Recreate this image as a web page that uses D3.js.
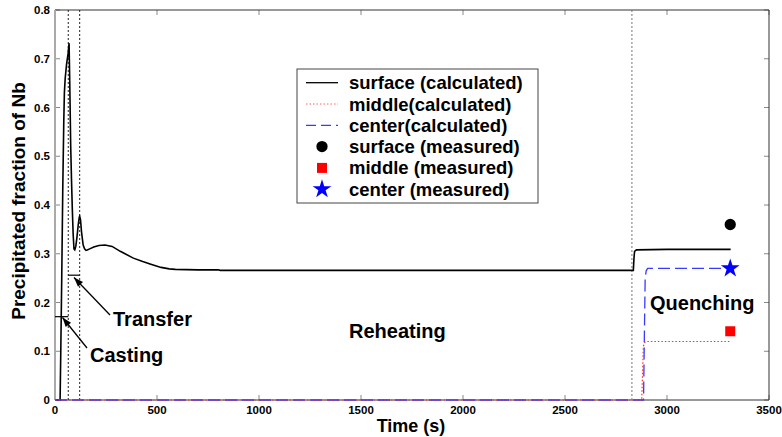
<!DOCTYPE html>
<html>
<head>
<meta charset="utf-8">
<script src="https://cdn.jsdelivr.net/npm/d3@7"></script>
<style>
  body { margin: 0; background: #fff; }
  text { font-family: Arial, "Liberation Sans", sans-serif; }
</style>
</head>
<body>
<div id="chart"></div>
<script>
// surface (calculated)
var surfaceT = [0, 25, 29, 33, 38, 43, 46, 50, 57, 64, 69, 72, 77, 81, 85, 89, 93, 97, 102, 108, 114, 119, 121,
    125, 130, 138, 145, 152, 158, 170, 190, 215, 245, 280, 320, 384, 430, 466, 520, 560, 590, 700, 800, 810,
    1500, 2000, 2500, 2835, 2838, 2841, 2850, 3000, 3312];
var surfaceV = [0, 0, 0.12, 0.25, 0.43, 0.57, 0.63, 0.66, 0.69, 0.71, 0.732, 0.66, 0.52, 0.45, 0.39, 0.34, 0.31, 0.308, 0.315, 0.335, 0.36, 0.375, 0.377,
    0.37, 0.345, 0.318, 0.31, 0.307, 0.3077, 0.31, 0.314, 0.317, 0.318, 0.315, 0.305, 0.291, 0.284, 0.279, 0.272, 0.269, 0.268, 0.267, 0.267, 0.266,
    0.266, 0.266, 0.266, 0.266, 0.29, 0.305, 0.308, 0.309, 0.309];
// middle (calculated)
var middleT = [0, 2876, 2880, 2884, 2892, 2900, 3316];
var middleV = [0, 0, 0.05, 0.11, 0.119, 0.12, 0.12];
// center (calculated)
var centerT = [0, 2885, 2889, 2893, 2898, 2905, 3310];
var centerV = [0, 0, 0.13, 0.25, 0.265, 0.27, 0.27];
// measured values
var measuredNames = ['surface', 'middle', 'center'];
var measuredT = [3310, 3310, 3310];
var measuredV = [0.36, 0.141, 0.27];
// process stages
var stageBounds = [65, 121, 2828];
var castingLevel = 0.171;
var transferLevel = 0.256;
var legendLabels = ['surface (calculated)', 'middle(calculated)', 'center(calculated)',
    'surface (measured)', 'middle (measured)', 'center (measured)'];
var xTicks = [0, 500, 1000, 1500, 2000, 2500, 3000, 3500];
var yTicks = [0, 0.1, 0.2, 0.3, 0.4, 0.5, 0.6, 0.7, 0.8];

var width = 782, height = 437;
var svg = d3.select('#chart').append('svg')
    .attr('width', width).attr('height', height);

var x = d3.scaleLinear().domain([0, 3500]).range([55, 769]);
var y = d3.scaleLinear().domain([0, 0.8]).range([400, 10]);

// ticks (inside, all four sides)
var ticks = svg.append('g').attr('stroke', '#888').attr('stroke-width', 1);
xTicks.forEach(function(t) {
    ticks.append('line').attr('x1', x(t)).attr('x2', x(t)).attr('y1', 400).attr('y2', 395);
    ticks.append('line').attr('x1', x(t)).attr('x2', x(t)).attr('y1', 10).attr('y2', 15);
});
yTicks.forEach(function(v) {
    ticks.append('line').attr('x1', 55).attr('x2', 60).attr('y1', y(v)).attr('y2', y(v));
    ticks.append('line').attr('x1', 769).attr('x2', 764).attr('y1', y(v)).attr('y2', y(v));
});

// frame
svg.append('line').attr('x1', 55).attr('x2', 769).attr('y1', 10).attr('y2', 10).attr('stroke', '#333');
svg.append('line').attr('x1', 769).attr('x2', 769).attr('y1', 10).attr('y2', 400).attr('stroke', '#333');
svg.append('line').attr('x1', 55).attr('x2', 769).attr('y1', 400).attr('y2', 400).attr('stroke', '#333');
svg.append('line').attr('x1', 55).attr('x2', 55).attr('y1', 10).attr('y2', 400)
    .attr('stroke', '#aaa').attr('stroke-width', 2);

// tick labels
svg.append('g').selectAll('text').data(xTicks).enter().append('text')
    .attr('x', function(d) { return x(d); })
    .attr('y', 414)
    .attr('text-anchor', 'middle')
    .attr('font-size', 11.5)
    .attr('font-weight', 'bold')
    .text(function(d) { return d; });
svg.append('g').selectAll('text').data(yTicks).enter().append('text')
    .attr('x', 50)
    .attr('y', function(d) { return y(d) + 4; })
    .attr('text-anchor', 'end')
    .attr('font-size', 11.5)
    .attr('font-weight', 'bold')
    .text(function(d) { return d === 0 ? '0' : d3.format('.1f')(d); });

// axis titles
svg.append('text').attr('x', 411).attr('y', 432).attr('text-anchor', 'middle')
    .attr('font-size', 18).attr('font-weight', 'bold').text('Time (s)');
svg.append('text').attr('transform', 'translate(25,201) rotate(-90)').attr('text-anchor', 'middle')
    .attr('font-size', 19).attr('font-weight', 'bold').text('Precipitated fraction of Nb');

// stage boundaries
svg.append('g').selectAll('line').data(stageBounds).enter().append('line')
    .attr('x1', function(d) { return x(d); })
    .attr('x2', function(d) { return x(d); })
    .attr('y1', 10).attr('y2', 400)
    .attr('stroke', function(d, i) { return i === 2 ? '#777' : '#222'; })
    .attr('stroke-dasharray', '2,2');

svg.append('line').attr('x1', x(0)).attr('x2', x(stageBounds[0]))
    .attr('y1', y(castingLevel)).attr('y2', y(castingLevel)).attr('stroke', '#111').attr('stroke-width', 1.3);
svg.append('line').attr('x1', x(stageBounds[0])).attr('x2', x(stageBounds[1]))
    .attr('y1', y(transferLevel)).attr('y2', y(transferLevel)).attr('stroke', '#111').attr('stroke-width', 1.3);

// curves
var line = d3.line()
    .x(function(d) { return x(d[0]); })
    .y(function(d) { return y(d[1]); });
function pairs(ts, vs) { return ts.map(function(t, i) { return [t, vs[i]]; }); }

svg.append('path').datum(pairs(surfaceT, surfaceV)).attr('d', line)
    .attr('fill', 'none').attr('stroke', '#000').attr('stroke-width', 1.6);
svg.append('path').datum(pairs(centerT, centerV)).attr('d', line)
    .attr('fill', 'none').attr('stroke', '#3a3aff').attr('stroke-width', 1.3).attr('stroke-dasharray', '12,5');
svg.append('path').datum(pairs(middleT, middleV)).attr('d', line)
    .attr('fill', 'none').attr('stroke', '#ff3030').attr('stroke-width', 1.2).attr('stroke-dasharray', '1.5,2');

// measured markers
var star = d3.symbol().type(d3.symbolStar).size(110);
var square = d3.symbol().type(d3.symbolSquare).size(100);
var circle = d3.symbol().type(d3.symbolCircle).size(100);
var markerSym = { surface: circle, middle: square, center: star };
var markerCol = { surface: '#000', middle: '#f00', center: '#00f' };
svg.append('g').selectAll('path').data(measuredNames).enter().append('path')
    .attr('transform', function(d, i) { return 'translate(' + x(measuredT[i]) + ',' + y(measuredV[i]) + ')'; })
    .attr('d', function(d) { return markerSym[d](); })
    .attr('fill', function(d) { return markerCol[d]; });

// annotations
function arrow(x1, y1, x2, y2) {
    svg.append('line').attr('x1', x1).attr('y1', y1).attr('x2', x2).attr('y2', y2)
        .attr('stroke', '#000').attr('stroke-width', 1.3);
    var a = Math.atan2(y2 - y1, x2 - x1), L = 10, w = 0.35;
    svg.append('path')
        .attr('d', 'M' + x2 + ',' + y2 +
            'L' + (x2 - L * Math.cos(a - w)) + ',' + (y2 - L * Math.sin(a - w)) +
            'L' + (x2 - L * Math.cos(a + w)) + ',' + (y2 - L * Math.sin(a + w)) + 'Z')
        .attr('fill', '#000');
}
arrow(110, 315, 74, 277.5);
arrow(87, 348, 62.5, 317.5);

function label(tx, ty, s) {
    svg.append('text').attr('x', tx).attr('y', ty).attr('font-size', 20)
        .attr('font-weight', 'bold').text(s);
}
label(113, 326, 'Transfer');
label(90, 362, 'Casting');
label(349, 338, 'Reheating');
label(650, 310, 'Quenching');

// legend
var lg = svg.append('g');
lg.append('rect').attr('x', 297).attr('y', 69).attr('width', 241).attr('height', 134)
    .attr('fill', '#fff').attr('stroke', '#444');
var rowY = function(i) { return 82.7 + i * 21.3; };
lg.append('line').attr('x1', 306).attr('x2', 338).attr('y1', rowY(0)).attr('y2', rowY(0))
    .attr('stroke', '#000').attr('stroke-width', 1.3);
lg.append('line').attr('x1', 306).attr('x2', 338).attr('y1', rowY(1)).attr('y2', rowY(1))
    .attr('stroke', '#ff6060').attr('stroke-width', 1).attr('stroke-dasharray', '1.5,2');
lg.append('line').attr('x1', 306).attr('x2', 338).attr('y1', rowY(2)).attr('y2', rowY(2))
    .attr('stroke', '#3a3aff').attr('stroke-width', 1.2).attr('stroke-dasharray', '10,5');
measuredNames.forEach(function(d, i) {
    lg.append('path').attr('transform', 'translate(322,' + rowY(i + 3) + ')')
        .attr('d', markerSym[d]()).attr('fill', markerCol[d]);
});
lg.selectAll('text.lab').data(legendLabels).enter().append('text')
    .attr('class', 'lab')
    .attr('x', 349)
    .attr('y', function(d, i) { return rowY(i) + 6.5; })
    .attr('font-size', 18.5)
    .attr('font-weight', 'bold')
    .text(function(d) { return d; });
</script>
</body>
</html>
